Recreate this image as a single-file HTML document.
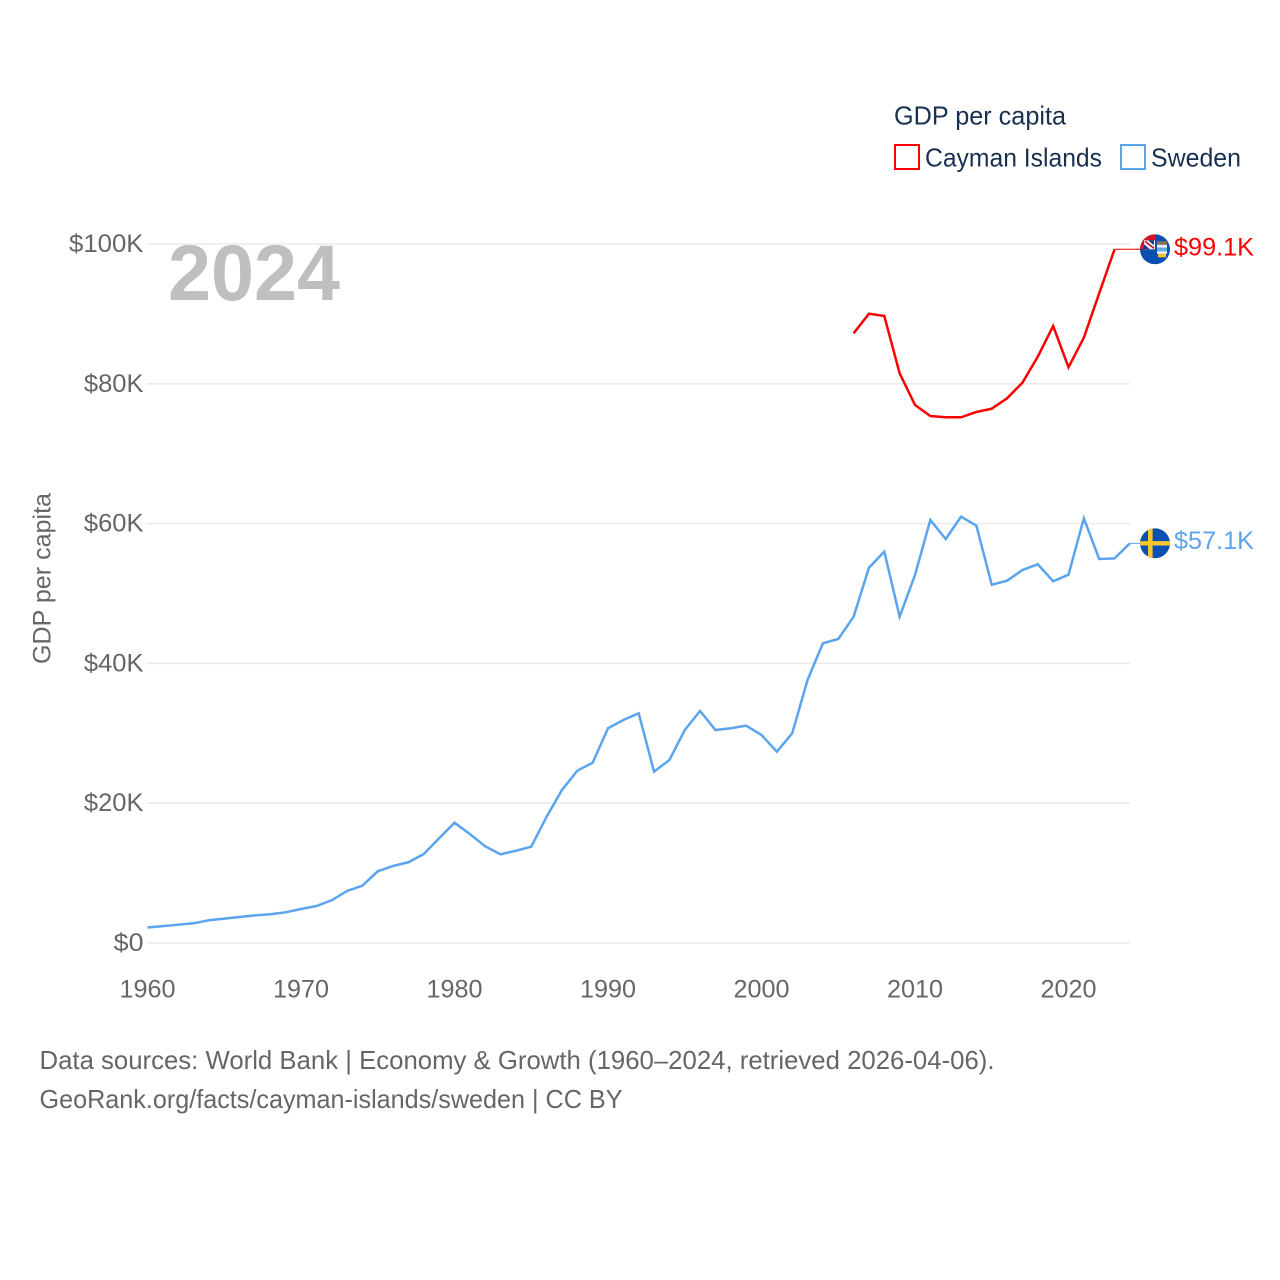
<!DOCTYPE html>
<html lang="en">
<head>
<meta charset="utf-8">
<title>GDP per capita: Cayman Islands and Sweden</title>
<style>
  html, body { margin: 0; padding: 0; background: #fff; }
  svg { display: block; }
  text { font-family: "Liberation Sans", sans-serif; }
</style>
</head>
<body>
<svg id="chart" width="1280" height="1280" viewBox="0 0 1280 1280" xmlns="http://www.w3.org/2000/svg">
  <defs>
    <clipPath id="flag-clip-se"><circle cx="0" cy="0" r="15"></circle></clipPath>
    <clipPath id="flag-clip-ky"><circle cx="0" cy="0" r="15"></circle></clipPath>
  </defs>
  <rect width="1280" height="1280" fill="#ffffff"></rect>
  <g id="grid"></g>
  <g id="y-axis"></g>
  <g id="x-axis"></g>
  <text x="168" y="300" font-size="79" font-weight="700" fill="#bfbfbf" textLength="172" lengthAdjust="spacingAndGlyphs">2024</text>
  <g id="series"></g>
  <g id="end-markers"></g>

  <text transform="translate(50.5,578.5) rotate(-90)" text-anchor="middle" font-size="25" fill="#666666" textLength="171" lengthAdjust="spacingAndGlyphs">GDP per capita</text>

  <g>
    <text x="894" y="124.5" font-size="26" fill="#1a3050" textLength="172" lengthAdjust="spacingAndGlyphs">GDP per capita</text>
    <rect x="895" y="145" width="24" height="24" fill="none" stroke="#ff0000" stroke-width="2"></rect>
    <text x="925" y="166.5" font-size="26" fill="#1a3050" textLength="177" lengthAdjust="spacingAndGlyphs">Cayman Islands</text>
    <rect x="1121" y="145" width="24" height="24" fill="none" stroke="#5ba4ee" stroke-width="2"></rect>
    <text x="1151" y="166.5" font-size="26" fill="#1a3050" textLength="90" lengthAdjust="spacingAndGlyphs">Sweden</text>
  </g>

  <g>
    <text x="39.5" y="1069" font-size="26" fill="#666666" textLength="955" lengthAdjust="spacingAndGlyphs">Data sources: World Bank | Economy &amp; Growth (1960–2024, retrieved 2026-04-06).</text>
    <text x="39.5" y="1108" font-size="26" fill="#666666" textLength="583" lengthAdjust="spacingAndGlyphs">GeoRank.org/facts/cayman-islands/sweden | CC BY</text>
  </g>
</svg>
<script>
// Values in thousands of US dollars.
const swedenStartYear = 1960;
const swedenValues = [2.22,2.42,2.62,2.82,3.25,3.48,3.72,3.96,4.11,4.39,4.86,5.29,6.11,7.44,8.20,10.26,11.02,11.55,12.73,14.98,17.21,15.59,13.83,12.69,13.20,13.78,18.07,21.89,24.65,25.79,30.72,31.90,32.86,24.51,26.18,30.47,33.19,30.47,30.72,31.09,29.76,27.37,30.00,37.63,42.88,43.49,46.68,53.69,55.98,46.68,52.65,60.52,57.80,60.99,59.70,51.26,51.83,53.36,54.18,51.75,52.69,60.76,54.94,55.03,57.18];
const caymanStartYear = 2006;
const caymanValues = [87.22,90.03,89.70,81.50,76.97,75.39,75.21,75.21,75.97,76.44,77.93,80.16,83.88,88.27,82.36,86.60,92.95,99.24];
const yTickValues = [0,20,40,60,80,100];
const yTickLabels = ["$0","$20K","$40K","$60K","$80K","$100K"];
const xTickValues = [1960,1970,1980,1990,2000,2010,2020];
const xTickLabels = ["1960","1970","1980","1990","2000","2010","2020"];
const endLabels = ["$99.1K","$57.1K"];

const NS = "http://www.w3.org/2000/svg";
const xScale = year => 147.5 + (year - 1960) * 15.35;
const yScale = value => 943 - value * 6.99;

function make(tag, attrs, parent) {
  const el = document.createElementNS(NS, tag);
  for (const k in attrs) el.setAttribute(k, attrs[k]);
  parent.appendChild(el);
  return el;
}

const grid = document.getElementById("grid");
const yAxis = document.getElementById("y-axis");
const xAxis = document.getElementById("x-axis");
const series = document.getElementById("series");
const markers = document.getElementById("end-markers");

yTickValues.forEach((v, i) => {
  const line = make("line", {x1: 147, x2: 1130, y1: yScale(v), y2: yScale(v), stroke: "#ebebeb", "stroke-width": 1.6}, grid);
  
  
  const label = make("text", {x: 143.5, y: yScale(v) + 8, "text-anchor": "end", "font-size": 25, fill: "#666666", textLength: yTickLabels[i].length * 14.9, lengthAdjust: "spacingAndGlyphs"}, yAxis);
  
  
  label.textContent = yTickLabels[i];
});

xTickValues.forEach((v, i) => {
  const label = make("text", {x: xScale(v), y: 997.5, "text-anchor": "middle", "font-size": 25, fill: "#666666", textLength: 56, lengthAdjust: "spacingAndGlyphs"}, xAxis);
  
  
  label.textContent = xTickLabels[i];
});

function linePath(startYear, values) {
  return values.map((v, i) => (i ? "L" : "M") + xScale(startYear + i).toFixed(2) + " " + yScale(v).toFixed(2)).join(" ");
}

const caymanLine = make("path", {d: linePath(caymanStartYear, caymanValues), fill: "none", stroke: "#ff0000", "stroke-width": 2.5, "stroke-linejoin": "miter"}, series);



const swedenLine = make("path", {d: linePath(swedenStartYear, swedenValues), fill: "none", stroke: "#5ba4ee", "stroke-width": 2.5, "stroke-linejoin": "miter"}, series);



const caymanLastYear = caymanStartYear + caymanValues.length - 1;
const swedenLastYear = swedenStartYear + swedenValues.length - 1;
const caymanEndY = yScale(caymanValues[caymanValues.length - 1]);
const swedenEndY = yScale(swedenValues[swedenValues.length - 1]);

const caymanLeader = make("line", {x1: xScale(caymanLastYear), x2: 1141, y1: caymanEndY, y2: caymanEndY, stroke: "#ff0000", "stroke-width": 1}, markers);


const swedenLeader = make("line", {x1: xScale(swedenLastYear), x2: 1141, y1: swedenEndY, y2: swedenEndY, stroke: "#5ba4ee", "stroke-width": 1}, markers);



// Cayman Islands flag
const ky = make("g", {transform: "translate(1155," + caymanEndY + ")", "clip-path": "url(#flag-clip-ky)"}, markers);


make("rect", {x: -15, y: -15, width: 30, height: 30, fill: "#0b4fb0"}, ky);
make("rect", {x: -15, y: -15, width: 15, height: 15, fill: "#d8122c"}, ky);
make("rect", {x: -11, y: -9, width: 11, height: 9, fill: "#f4f4f4"}, ky);
make("path", {d: "M-10 -8 L-1 -1", stroke: "#d8122c", "stroke-width": 1.6}, ky);
make("path", {d: "M-7 -9 L-1 -4 L-1 -9 Z M-11 -5 L-5 0 L-11 0 Z", fill: "#123a8c"}, ky);
make("rect", {x: 2, y: -8, width: 10, height: 3.5, fill: "#8a7650"}, ky);
make("rect", {x: 2, y: -4.5, width: 10, height: 3, fill: "#e8eef5"}, ky);
make("rect", {x: 2, y: -1.5, width: 10, height: 3.5, fill: "#59ace6"}, ky);
make("rect", {x: 2, y: 2, width: 10, height: 2.5, fill: "#f5f5f5"}, ky);
make("rect", {x: 3, y: 4.5, width: 8, height: 3.5, fill: "#f2c230"}, ky);

// Sweden flag
const se = make("g", {transform: "translate(1155," + swedenEndY + ")", "clip-path": "url(#flag-clip-se)"}, markers);


make("rect", {x: -15, y: -15, width: 30, height: 30, fill: "#0b4fb0"}, se);
make("rect", {x: -15, y: -2.2, width: 30, height: 4.4, fill: "#f5c92e"}, se);
make("rect", {x: -7, y: -15, width: 4.6, height: 30, fill: "#f5c92e"}, se);

const caymanEndLabel = make("text", {x: 1174, y: caymanEndY + 6, "font-size": 25, fill: "#ff0000", textLength: 80, lengthAdjust: "spacingAndGlyphs"}, markers);


caymanEndLabel.textContent = endLabels[0];

const swedenEndLabel = make("text", {x: 1174, y: swedenEndY + 5.5, "font-size": 25, fill: "#5ba4ee", textLength: 80, lengthAdjust: "spacingAndGlyphs"}, markers);


swedenEndLabel.textContent = endLabels[1];
</script>
</body>
</html>
